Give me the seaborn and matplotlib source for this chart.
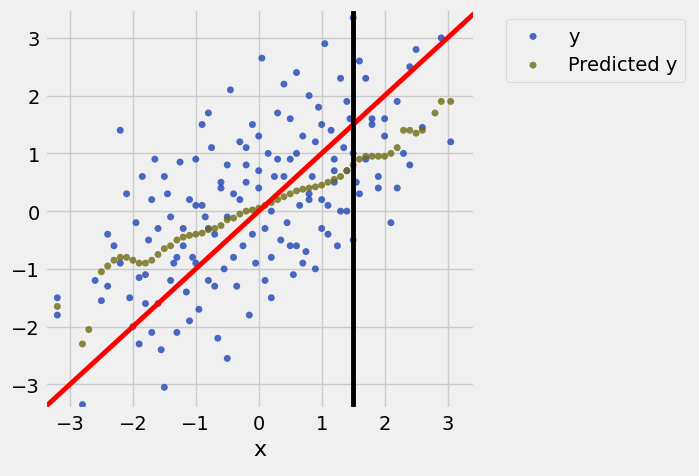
import matplotlib
matplotlib.use("Agg")
import matplotlib.pyplot as plt
import seaborn as sns
import pandas as pd

x_obs = [-3.2, -3.2, -2.8, -2.6, -2.5, -2.4, -2.3, -2.2, -2.1, -2.05, -2.0, -1.95, -1.9, -1.85,
         -1.8, -1.75, -1.7, -1.65, -1.6, -1.55, -1.5, -1.45, -1.4, -1.35, -1.3, -1.25, -1.2,
         -1.15, -1.1, -1.05, -1.0, -0.95, -0.9, -0.85, -0.8, -0.75, -0.7, -0.65, -0.6, -0.55,
         -0.5, -0.45, -0.4, -0.35, -0.3, -0.25, -0.2, -0.15, -0.1, -0.05, 0.0, 0.05, 0.1, 0.15,
         0.2, 0.25, 0.3, 0.35, 0.4, 0.45, 0.5, 0.55, 0.6, 0.65, 0.7, 0.75, 0.8, 0.85, 0.9, 0.95,
         1.0, 1.05, 1.1, 1.15, 1.2, 1.25, 1.3, 1.35, 1.4, 1.45, 1.5, 1.55, 1.6, 1.7, 1.8, 1.9,
         2.0, 2.1, 2.2, 2.3, 2.4, 2.5, 2.6, 2.9, 3.05,
         -2.2, -1.9, -1.6, -1.3, -1.0, -0.7, -0.4, -0.1, 0.2, 0.5, 0.8, 1.1, 1.4, 1.7, 2.0,
         -1.7, -1.2, -0.9, -0.6, -0.3, 0.0, 0.3, 0.6, 0.9, 1.2, 1.5, 1.8, 2.2,
         -2.4, -1.8, -1.4, -1.1, -0.8, -0.5, -0.2, 0.1, 0.4, 0.7, 1.0, 1.3, 1.6, 1.9, 2.4,
         -1.5, -1.0, -0.5, 0.0, 0.5, 1.0, 1.5, 0.2, -0.2, 0.8, 1.2, -0.8, 0.6, 1.4]
y_obs = [-1.5, -1.8, -3.35, -1.2, -1.55, -0.4, -0.6, 1.4, 0.3, -1.5, -2.0, -0.2, -2.3, 0.6,
         -1.1, -0.5, -2.1, 0.9, -0.3, -2.4, -3.05, 0.3, -1.2, -0.9, -2.1, 0.85, -0.6,
         -1.4, 0.2, -0.8, 0.9, -1.7, 1.5, -0.1, -1.2, 1.1, -0.4, -2.2, 0.5, -1.0,
         -2.55, 2.1, 0.3, -1.3, 1.2, -0.6, 0.8, -1.8, 1.5, -0.9, 0.4, 2.65, -0.3, 1.0,
         -1.5, 0.6, 1.7, -0.5, 2.2, -0.2, 0.9, -1.1, 2.4, 0.1, 1.3, -0.7, 2.0, 0.6, -1.0, 1.8,
         0.2, 2.9, -0.4, 1.4, 0.7, -0.6, 2.3, 1.1, 0.0, 1.6, 3.35, 0.5, 2.6, 2.3, 1.5, 0.6,
         1.6, -0.2, 0.4, 1.0, 2.5, 2.8, 1.45, 3.0, 1.2,
         -0.9, -1.15, -1.6, -0.8, -0.9, -1.3, -0.8, -0.4, 0.0, -0.6, 0.3, 0.1, 0.7, 0.9, 1.3,
         0.2, -0.3, 0.1, 0.4, 0.2, 0.7, 0.9, 1.0, 1.2, 0.9, 1.0, 1.6, 1.9,
         -1.3, -1.6, -0.1, -1.9, -0.3, 0.8, 0.5, -1.2, 0.6, -0.9, 1.5, 0.0, 0.3, 0.4, 0.8,
         0.6, 0.1, -0.1, 1.3, 1.6, -0.3, -0.5, -0.8, 1.1, 0.2, 0.5, 1.7, -0.6, 1.9]

# predicted curve
x_pred = [-3.2, -2.8, -2.7, -2.5, -2.4, -2.3, -2.2, -2.1, -2.0, -1.9, -1.8, -1.7, -1.6, -1.5,
          -1.4, -1.3, -1.2, -1.1, -1.0, -0.9, -0.8, -0.7, -0.6, -0.5, -0.4, -0.3, -0.2, -0.1,
          0.0, 0.1, 0.2, 0.3, 0.4, 0.5, 0.6, 0.7, 0.8, 0.9, 1.0, 1.1, 1.2, 1.3, 1.4, 1.5, 1.6,
          1.7, 1.8, 1.9, 2.0, 2.1, 2.2, 2.3, 2.4, 2.5, 2.6, 2.8, 2.9, 3.05]
y_pred = [-1.65, -2.3, -2.05, -1.05, -0.95, -0.85, -0.8, -0.8, -0.85, -0.9, -0.9, -0.85, -0.75,
          -0.65, -0.6, -0.5, -0.45, -0.42, -0.4, -0.38, -0.32, -0.3, -0.25, -0.15, -0.12, -0.05,
          0.0, 0.02, 0.05, 0.1, 0.15, 0.2, 0.25, 0.3, 0.35, 0.38, 0.4, 0.42, 0.45, 0.5, 0.55,
          0.6, 0.7, 0.8, 0.9, 0.95, 0.95, 0.95, 0.95, 1.0, 1.1, 1.4, 1.4, 1.35, 1.4, 1.7, 1.9, 1.9]

plt.style.use("fivethirtyeight")
fig = plt.figure(figsize=(6.99, 4.77), dpi=100)
fig.patch.set_facecolor("#f0f0f0")
ax = fig.add_axes([0.064, 0.14, 0.615, 0.839])
ax.set_facecolor("#f0f0f0")

obs = pd.DataFrame({"x": x_obs, "y": y_obs})
pred = pd.DataFrame({"x": x_pred, "y": y_pred})
sns.scatterplot(data=obs, x="x", y="y", ax=ax, color="#1f45b5", alpha=0.8, s=25,
                edgecolor="none", label="y")
sns.scatterplot(data=pred, x="x", y="y", ax=ax, color="#6e6a12", alpha=0.8, s=25,
                edgecolor="none", label="Predicted y")
ax.axline((0, 0), slope=1, color="red", lw=3.5)
ax.axvline(1.5, color="black", lw=3.5)

ax.set_xlim(-3.4, 3.43)
ax.set_ylim(-3.43, 3.5)
ax.set_xticks([-3, -2, -1, 0, 1, 2, 3])
ax.set_yticks([-3, -2, -1, 0, 1, 2, 3])
ax.tick_params(labelsize=14)
ax.set_xlabel("x", fontsize=16)
ax.set_ylabel("")
ax.legend(loc="upper left", bbox_to_anchor=(1.05, 1.0), fontsize=14, facecolor="#f0f0f0")
fig.savefig("out.png", dpi=100, facecolor=fig.get_facecolor())
